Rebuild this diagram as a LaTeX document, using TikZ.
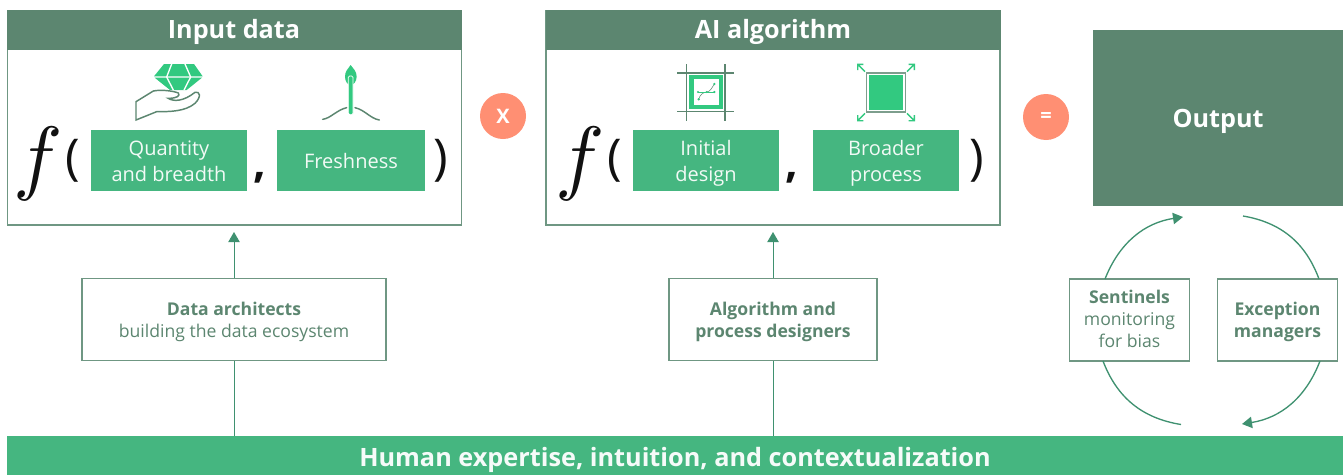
\documentclass[tikz,border=0pt]{standalone}
\usepackage{fontspec}
\setmainfont{Open Sans}
\usetikzlibrary{arrows.meta}
\definecolor{hdr}{HTML}{5C8670}
\definecolor{grn}{HTML}{45B680}
\definecolor{icn}{HTML}{32C980}
\definecolor{arw}{HTML}{3F9170}
\definecolor{org}{HTML}{FF8F73}
\definecolor{frm}{HTML}{6F9783}
\definecolor{ink}{HTML}{111111}
\tikzset{
 panel/.style={draw=frm,line width=1pt,fill=white},
 hd/.style={text=white,font=\fontsize{18.9}{22}\selectfont\bfseries},
 gbox/.style={fill=grn,text=white!93!grn,align=center,inner sep=0pt,minimum height=45.75pt,font=\fontsize{15}{19.5}\selectfont},
 role/.style={draw=frm,line width=.8pt,fill=white,text=hdr,align=center,inner sep=0pt,font=\fontsize{13.2}{16.5}\selectfont},
 op/.style={circle,fill=org,text=white,minimum size=34.5pt,inner sep=0pt,font=\fontsize{15}{18}\selectfont\bfseries},
 conn/.style={draw=arw,line width=.7pt},
 loopline/.style={draw=arw,line width=1pt},
 tip/.style={-{Triangle[length=7.5pt,width=8.5pt]}},
 fn/.style={text=ink,inner sep=0pt,scale=6.2},
 par/.style={text=ink,inner sep=0pt,font=\fontsize{37}{37}\selectfont},
 com/.style={text=ink,inner sep=0pt,font=\fontsize{33}{33}\selectfont\bfseries},
 ic/.style={x=0.25pt,y=-0.25pt},
 dk/.style={draw=hdr,line width=1.1pt},
}
\begin{document}
\begin{tikzpicture}[x=0.75pt,y=-0.75pt]
\useasboundingbox (0,0) rectangle (1343,475);
% panels
\path[panel] (7.5,10.5) rectangle (461.5,225);
\path[panel] (546,10.5) rectangle (1000,225);
\fill[hdr] (7,10) rectangle (462,50);
\fill[hdr] (545.5,10) rectangle (1000.5,50);
\node[hd] (t1) at (234,31.5) {Input data};
\node[hd] (t2) at (773,31.5) {AI algorithm};
% output
\node[hd,fill=hdr,minimum width=187.5pt,minimum height=132pt,inner sep=0pt] (out) at (1218,118) {\rule{0pt}{18.3pt}Output};
% green boxes
\node[gbox,minimum width=117pt] (q) at (169,160.5) {\rule{0pt}{12.2pt}Quantity\\and breadth};
\node[gbox,minimum width=111pt] (fr) at (351,160.5) {Freshness};
\node[gbox,minimum width=109.5pt] (id) at (706,160.5) {\rule{0pt}{16pt}Initial\\design};
\node[gbox,minimum width=109.5pt] (bp) at (886,160.5) {\rule{0pt}{16pt}Broader\\process};
% formula glyphs
\node[fn] (f1) at (38,164) {$f$};
\node[par] (l1) at (72.5,160.5) {(};
\node[com] (c1) at (259.5,178) {,};
\node[par] (r1) at (440.5,160.5) {)};
\node[fn] (f2) at (580,164) {$f$};
\node[par] (l2) at (614.5,160.5) {(};
\node[com] (c2) at (792,178) {,};
\node[par] (r2) at (977,160.5) {)};
% operators
\node[op] (x) at (503,116) {X};
\node[op] (eq) at (1046,117) {=};
% bar
\node[fill=grn,text=white!95!grn,minimum width=1002pt,minimum height=29.25pt,inner sep=0pt,font=\fontsize{18.95}{22}\selectfont\bfseries] (bar) at (675,455.5) {\rule{0pt}{21.2pt}Human expertise, intuition, and contextualization};
% roles
\node[role,minimum width=228pt,minimum height=62pt] (da) at (234,319.5) {\rule{0pt}{13.1pt}{\bfseries Data architects}\\building the data ecosystem};
\node[role,minimum width=156pt,minimum height=62pt] (ad) at (773,319.5) {\rule{0pt}{13.1pt}\bfseries Algorithm and\\\bfseries process designers};
\node[role,minimum width=90.5pt,minimum height=61.5pt] (se) at (1129.5,320) {{\bfseries Sentinels}\\monitoring\\for bias\rule[-1.5pt]{0pt}{1pt}};
\node[role,minimum width=90.5pt,minimum height=61.5pt] (ex) at (1277.5,320) {\rule{0pt}{13.1pt}\bfseries Exception\\\bfseries managers};
% connectors
\draw[conn] (bar.north -| da.south) -- (da.south);
\draw[conn] (bar.north -| ad.south) -- (ad.south);
\coordinate (a1) at (234,232);
\coordinate (a2) at (773,232);
\draw[conn,tip] (da.north) -- (a1);
\draw[conn,tip] (ad.north) -- (a2);
\coordinate (c1s) at (1105,279);
\coordinate (c1e) at (1183,217);
\coordinate (c2s) at (1243,216);
\coordinate (c2e) at (1319,279);
\coordinate (c3s) at (1320,361);
\coordinate (c3e) at (1242,424);
\coordinate (c4s) at (1181,424.5);
\coordinate (c4e) at (1103,361);
\draw[loopline,tip] (c1s) to[bend left=30] (c1e);
\draw[loopline] (c2s) to[bend left=30] (c2e);
\draw[loopline,tip] (c3s) to[bend left=30] (c3e);
\draw[loopline] (c4s) to[bend left=30] (c4e);
% gem and hand
\begin{scope}[shift={(120,55)},ic]
\fill[icn] (132,27) -- (222,27) -- (248,64) -- (102,64) -- cycle;
\fill[icn] (104,68) -- (246,68) -- (200,105) -- (150,105) -- cycle;
\draw[white,line width=1pt] (155,27) -- (140,66) -- (160,105);
\draw[white,line width=1pt] (195,27) -- (212,66) -- (192,105);
\draw[dk,fill=white] (48,140) -- (100,108) .. controls (125,103) and (160,108) .. (175,114) .. controls (181,122) and (172,130) .. (145,130) .. controls (160,140) and (190,140) .. (225,112) .. controls (240,108) and (245,125) .. (225,145) .. controls (195,170) and (150,170) .. (110,170) -- (48,195) -- cycle;
\end{scope}
% seedling
\begin{scope}[shift={(310,55)},ic]
\fill[icn] (122,30) .. controls (130,42) and (140,48) .. (140,65) .. controls (140,80) and (130,90) .. (122,90) .. controls (114,90) and (105,80) .. (105,65) .. controls (105,48) and (114,42) .. (122,30) -- cycle;
\draw[white,fill=icn,line width=.6pt,rounded corners=1pt] (115,63) rectangle (129,179);
\draw[dk,line cap=round] (38,193) .. controls (62,190) and (80,165) .. (110,158);
\draw[dk,line cap=round] (135,158) .. controls (165,165) and (180,190) .. (208,195);
\end{scope}
% design icon
\begin{scope}[shift={(660,55)},ic]
\draw[dk] (79,27) -- (79,197) (195,27) -- (195,197) (52,54) -- (222,54) (52,170) -- (222,170);
\fill[icn] (87,60) rectangle (190,163);
\fill[white] (102,73) rectangle (176,150);
\draw[hdr,line width=.4pt] (116,133) .. controls (120,118) and (130,112) .. (140,111) .. controls (150,110) and (155,100) .. (163,87);
\draw[icn,line width=.5pt] (114,111) -- (163,111);
\fill[icn] (116,133) circle (4) (114,111) circle (3.5) (140,111) circle (3.5) (163,111) circle (3.5) (163,87) circle (4);
\end{scope}
% broader icon
\begin{scope}[shift={(840,55)},ic]
\draw[hdr!80,line width=1.2pt] (80,54) rectangle (196,171);
\fill[icn] (86,60) rectangle (190,165);
\draw[icn,line width=1pt] (75,50) -- (53,28) (53,45) -- (53,28) -- (70,28);
\draw[icn,line width=1pt] (201,50) -- (223,28) (223,45) -- (223,28) -- (206,28);
\draw[icn,line width=1pt] (75,175) -- (53,197) (53,180) -- (53,197) -- (70,197);
\draw[icn,line width=1pt] (201,175) -- (223,197) (223,180) -- (223,197) -- (206,197);
\end{scope}
\end{tikzpicture}
\end{document}
